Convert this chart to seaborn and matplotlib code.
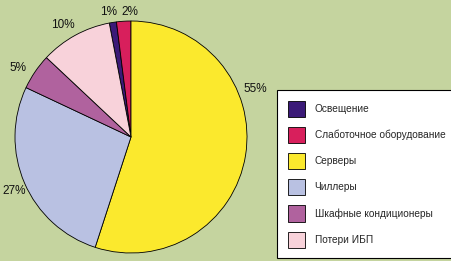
import matplotlib
matplotlib.use("Agg")
import matplotlib.pyplot as plt
import seaborn as sns
import numpy as np

categories = ["Освещение", "Слаботочное оборудование", "Серверы", "Чиллеры",
              "Шкафные кондиционеры", "Потери ИБП"]
values = [1, 2, 55, 27, 5, 10]
colors = ["#3b1a78", "#d81f5c", "#fbe92d", "#b9c1e2", "#b0629e", "#f8d2da"]
bg = "#c5d49f"

sns.set_style("white")
plt.rcParams['font.family'] = ['Liberation Sans Narrow', 'Liberation Sans', 'DejaVu Sans']

fig = plt.figure(figsize=(4.51, 2.61), dpi=100, facecolor=bg)
ax = fig.add_axes([15/451, 8/261, 232/451, 232/261])
ax.set_facecolor(bg)
wedges, texts, autotexts = ax.pie(
    values, colors=colors, startangle=100.8, counterclock=False,
    autopct=lambda p: f"{p:.0f}%", pctdistance=1.13,
    wedgeprops=dict(edgecolor="black", linewidth=0.6),
    textprops=dict(fontsize=8.5, color="#111111"))
ax.set_xlim(-1, 1)
ax.set_ylim(-1, 1)
ax.set_aspect("equal")
ax.axis("off")
for t in autotexts:
    t.set_clip_on(False)

# label placement tweaks (angle in degrees, radial distance)
def place(t, ang, dist):
    a = np.deg2rad(ang)
    t.set_position((dist * np.cos(a), dist * np.sin(a)))

x, y = autotexts[0].get_position()
autotexts[0].set_position((x - 0.02, y - 0.04))
x, y = autotexts[1].get_position()
autotexts[1].set_position((x + 0.06, y - 0.05))
place(autotexts[2], 21, 1.15)
place(autotexts[3], -155, 1.11)
place(autotexts[4], 148.8, 1.14)
place(autotexts[5], 121.4, 1.13)

leg = fig.legend(wedges, categories, loc="upper left",
                 bbox_to_anchor=(277/451, 1 - 90/261), bbox_transform=fig.transFigure,
                 fontsize=7.3, frameon=True, fancybox=False, framealpha=1,
                 edgecolor="black", handlelength=1.75, handleheight=2.06,
                 labelspacing=1.0, handletextpad=0.9, borderpad=1.05,
                 borderaxespad=0)
leg.get_frame().set_linewidth(0.8)
leg.get_frame().set_facecolor("white")

fig.savefig("out.png", dpi=100, facecolor=bg)
